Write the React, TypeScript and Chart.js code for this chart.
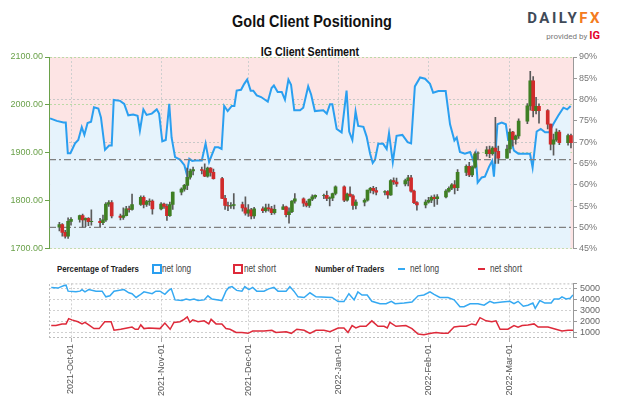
import React, { useEffect, useRef } from "react";
import { Chart, registerables } from "chart.js";
Chart.register(...registerables);

const FONT = '"Liberation Sans", Arial, sans-serif';
const BASE_DATE = "2021-09-23";
const X_MIN = 0.43;
const X_MAX = 180.7;

const monthDates = ["2021-10-01", "2021-11-01", "2021-12-01", "2022-01-01", "2022-02-01", "2022-03-01"];
const monthLabels = ["2021-Oct-01", "2021-Nov-01", "2021-Dec-01", "2022-Jan-01", "2022-Feb-01", "2022-Mar-01"];

const candleDates = [
  "2021-09-27", "2021-09-28", "2021-09-29", "2021-09-30",
  "2021-10-01", "2021-10-04", "2021-10-05", "2021-10-06", "2021-10-07", "2021-10-08", "2021-10-11", "2021-10-12", "2021-10-13", "2021-10-14", "2021-10-15", "2021-10-18", "2021-10-19", "2021-10-20", "2021-10-21", "2021-10-22", "2021-10-25", "2021-10-26", "2021-10-27", "2021-10-28", "2021-10-29",
  "2021-11-01", "2021-11-02", "2021-11-03", "2021-11-04", "2021-11-05", "2021-11-08", "2021-11-09", "2021-11-10", "2021-11-11", "2021-11-12", "2021-11-15", "2021-11-16", "2021-11-17", "2021-11-18", "2021-11-19", "2021-11-22", "2021-11-23", "2021-11-24", "2021-11-25", "2021-11-26", "2021-11-29", "2021-11-30",
  "2021-12-01", "2021-12-02", "2021-12-03", "2021-12-06", "2021-12-07", "2021-12-08", "2021-12-09", "2021-12-10", "2021-12-13", "2021-12-14", "2021-12-15", "2021-12-16", "2021-12-17", "2021-12-20", "2021-12-21", "2021-12-22", "2021-12-23", "2021-12-24", "2021-12-27", "2021-12-28", "2021-12-29", "2021-12-30", "2021-12-31",
  "2022-01-03", "2022-01-04", "2022-01-05", "2022-01-06", "2022-01-07", "2022-01-10", "2022-01-11", "2022-01-12", "2022-01-13", "2022-01-14", "2022-01-17", "2022-01-18", "2022-01-19", "2022-01-20", "2022-01-21", "2022-01-24", "2022-01-25", "2022-01-26", "2022-01-27", "2022-01-28", "2022-01-31",
  "2022-02-01", "2022-02-02", "2022-02-03", "2022-02-04", "2022-02-07", "2022-02-08", "2022-02-09", "2022-02-10", "2022-02-11", "2022-02-14", "2022-02-15", "2022-02-16", "2022-02-17", "2022-02-18", "2022-02-21", "2022-02-22", "2022-02-23", "2022-02-24", "2022-02-25", "2022-02-28",
  "2022-03-01", "2022-03-02", "2022-03-03", "2022-03-04", "2022-03-07", "2022-03-08", "2022-03-09", "2022-03-10", "2022-03-11", "2022-03-14", "2022-03-15", "2022-03-16", "2022-03-17", "2022-03-18", "2022-03-21", "2022-03-22",
];

const opens = [
  1745, 1750, 1734, 1726,
  1757, 1761, 1769, 1760, 1763, 1756, 1757, 1754, 1760, 1793, 1796, 1768, 1765, 1769, 1783, 1782, 1792, 1807, 1792, 1798, 1799,
  1783, 1793, 1788, 1769, 1792, 1818, 1824, 1832, 1849, 1862, 1865, 1863, 1851, 1868, 1859, 1846, 1805, 1790, 1789, 1790, 1792, 1785,
  1774, 1781, 1768, 1783, 1779, 1785, 1783, 1775, 1782, 1787, 1771, 1777, 1799, 1804, 1795, 1790, 1803, 1808, 1811, 1811, 1805, 1806, 1815,
  1829, 1801, 1814, 1810, 1790, 1797, 1801, 1822, 1826, 1821, 1818, 1819, 1812, 1842, 1839, 1835, 1842, 1848, 1820, 1796, 1791,
  1797, 1801, 1807, 1804, 1808, 1820, 1826, 1833, 1827, 1859, 1872, 1854, 1870, 1898, 1898, 1906, 1898, 1910, 1903, 1889,
  1908, 1943, 1928, 1935, 1966, 1998, 2050, 1988, 1997, 1988, 1960, 1918, 1927, 1943, 1921, 1936,
];
const highs = [
  1755, 1752, 1738, 1764,
  1765, 1770, 1772, 1764, 1765, 1781, 1763, 1770, 1796, 1800, 1800, 1772, 1785, 1788, 1789, 1814, 1810, 1810, 1801, 1804, 1802,
  1796, 1795, 1793, 1797, 1818, 1827, 1834, 1868, 1866, 1870, 1870, 1877, 1870, 1869, 1866, 1849, 1811, 1797, 1796, 1815, 1797, 1808,
  1792, 1784, 1786, 1787, 1793, 1793, 1788, 1791, 1792, 1789, 1785, 1800, 1815, 1806, 1799, 1804, 1812, 1812, 1814, 1820, 1808, 1816, 1831,
  1831, 1816, 1829, 1813, 1802, 1804, 1822, 1828, 1830, 1828, 1821, 1821, 1844, 1848, 1847, 1845, 1853, 1853, 1822, 1798, 1802,
  1807, 1810, 1812, 1813, 1823, 1829, 1836, 1842, 1865, 1875, 1880, 1873, 1902, 1902, 1913, 1914, 1913, 1974, 1914, 1916,
  1950, 1945, 1937, 1971, 2003, 2070, 2059, 2016, 2002, 1990, 1960, 1939, 1950, 1947, 1939, 1939,
];
const lows = [
  1737, 1726, 1722, 1721,
  1749, 1755, 1745, 1746, 1748, 1749, 1746, 1750, 1757, 1788, 1764, 1760, 1761, 1768, 1776, 1780, 1790, 1785, 1788, 1790, 1772,
  1781, 1784, 1759, 1767, 1782, 1812, 1820, 1823, 1845, 1854, 1856, 1850, 1849, 1851, 1845, 1804, 1782, 1779, 1784, 1783, 1778, 1770,
  1767, 1762, 1763, 1775, 1776, 1778, 1771, 1772, 1782, 1766, 1753, 1775, 1795, 1788, 1787, 1786, 1800, 1805, 1804, 1800, 1789, 1800, 1812,
  1798, 1799, 1808, 1782, 1783, 1789, 1799, 1816, 1814, 1812, 1812, 1805, 1811, 1834, 1830, 1831, 1831, 1818, 1794, 1780, 1785,
  1795, 1796, 1788, 1792, 1806, 1818, 1823, 1814, 1821, 1852, 1850, 1850, 1868, 1885, 1893, 1890, 1895, 1878, 1878, 1889,
  1900, 1914, 1918, 1930, 1961, 1989, 1975, 1981, 1962, 1950, 1906, 1895, 1924, 1917, 1916, 1910,
];
const closes = [
  1750, 1734, 1726, 1757,
  1761, 1769, 1760, 1763, 1756, 1757, 1754, 1760, 1793, 1796, 1768, 1765, 1769, 1783, 1782, 1792, 1807, 1792, 1798, 1799, 1783,
  1793, 1788, 1769, 1792, 1818, 1824, 1832, 1849, 1862, 1865, 1863, 1851, 1868, 1859, 1846, 1805, 1790, 1789, 1790, 1792, 1785, 1774,
  1781, 1768, 1783, 1779, 1785, 1783, 1775, 1782, 1787, 1771, 1777, 1799, 1804, 1795, 1790, 1803, 1808, 1811, 1811, 1805, 1806, 1815, 1829,
  1801, 1814, 1810, 1790, 1797, 1801, 1822, 1826, 1821, 1818, 1819, 1812, 1842, 1839, 1835, 1842, 1848, 1820, 1796, 1791, 1797,
  1801, 1807, 1804, 1808, 1820, 1826, 1833, 1827, 1859, 1872, 1854, 1870, 1898, 1898, 1906, 1898, 1910, 1903, 1889, 1908,
  1943, 1928, 1935, 1966, 1998, 2050, 1988, 1997, 1988, 1960, 1918, 1927, 1943, 1921, 1936, 1921,
];

// net-long percentage (day offsets from BASE_DATE)
const sentDays = [
  0.8, 3.1, 5.4, 6.2, 6.9, 7.8, 9.4, 10.5, 11.7, 12.6,
  13.7, 14.9, 15.9, 17.4, 18.3, 19.7, 21.1, 22.0, 22.7, 24.9,
  26.3, 27.7, 29.4, 30.9, 31.7, 32.9, 34.0, 35.8, 37.5, 38.3,
  39.4, 40.6, 41.8, 42.6, 43.8, 45.5, 47.0, 47.8, 48.7, 49.7,
  50.7, 53.0, 54.3, 55.5, 56.4, 57.5, 58.7, 59.8, 60.7, 61.9,
  63.3, 64.2, 65.0, 66.5, 67.6, 68.6, 69.8, 70.7, 71.9, 73.4,
  75.7, 77.0, 77.8, 79.1, 80.5, 81.6, 82.8, 83.7, 84.8, 86.8,
  87.9, 89.6, 90.6, 91.9, 94.8, 96.0, 97.1, 97.9, 99.4, 101.1,
  102.8, 103.7, 104.8, 105.9, 106.8, 108.6, 109.7, 110.9, 111.8, 112.6,
  113.7, 115.4, 116.6, 117.4, 118.7, 120.0, 122.0, 123.8, 125.0, 126.3,
  128.1, 129.8, 131.5, 132.6, 134.4, 136.9, 138.4, 139.9, 140.7, 141.8,
  143.5, 145.3, 146.4, 147.2, 147.9, 149.3, 150.4, 151.8, 152.9, 153.5,
  154.7, 156.2, 157.6, 158.4, 159.3, 160.4, 161.9, 165.0, 165.9, 166.8,
  168.2, 169.6, 171.1, 172.5, 173.9, 175.6, 177.4, 178.7, 179.9,
];
const sentPct = [
  75.6, 75.0, 74.6, 74.6, 67.4, 67.4, 69.7, 70.5, 73.5, 71.7,
  74.5, 74.8, 78.2, 77.9, 75.8, 68.2, 69.2, 69.2, 79.9, 79.7,
  79.0, 76.3, 76.5, 76.2, 72.7, 77.7, 76.4, 76.7, 77.7, 76.7,
  70.2, 70.5, 79.0, 71.1, 66.5, 65.9, 64.6, 62.5, 66.1, 65.6,
  65.7, 65.7, 69.7, 65.3, 66.9, 68.8, 68.8, 68.4, 78.5, 77.3,
  78.5, 78.5, 82.1, 82.3, 83.7, 84.7, 82.1, 82.1, 81.0, 80.6,
  79.5, 82.7, 83.3, 81.8, 81.8, 80.0, 84.7, 83.5, 77.5, 77.5,
  78.1, 83.1, 81.2, 77.3, 77.5, 76.7, 78.9, 78.9, 73.1, 72.3,
  82.1, 72.5, 70.5, 77.2, 73.8, 73.6, 71.3, 67.3, 65.1, 65.9,
  69.6, 69.6, 68.4, 72.1, 65.3, 71.5, 71.7, 70.0, 69.7, 83.1,
  85.2, 84.9, 83.7, 81.6, 82.0, 82.0, 74.2, 70.4, 71.1, 67.7,
  67.3, 67.7, 65.7, 67.4, 60.5, 61.7, 61.9, 64.2, 65.6, 61.9,
  74.2, 74.6, 74.2, 70.5, 70.5, 68.0, 67.3, 67.3, 67.3, 64.0,
  72.5, 73.1, 72.3, 72.3, 74.2, 76.2, 78.1, 77.7, 78.5,
];
const refLevels = [50, 65.9];

// number of traders
const longDays = [
  1.2, 3.5, 5.6, 6.3, 7.0, 9.7, 11.1, 11.8, 12.8, 14.1,
  16.6, 18.7, 20.0, 21.4, 22.8, 24.2, 26.2, 27.9, 29.0, 30.4,
  31.7, 33.1, 35.9, 37.2, 38.6, 40.3, 41.6, 42.5, 43.8, 46.2,
  47.6, 48.9, 50.3, 51.7, 53.8, 55.1, 56.5, 58.6, 59.9, 61.3,
  62.3, 63.4, 65.0, 66.8, 67.8, 69.2, 70.5, 71.9, 74.4, 76.0,
  77.8, 79.2, 82.0, 83.3, 84.7, 86.1, 88.2, 90.2, 92.3, 97.8,
  99.9, 101.9, 103.6, 105.4, 106.7, 108.1, 109.9, 111.5, 114.3, 116.4,
  118.2, 119.5, 122.6, 125.3, 127.4, 129.4, 131.5, 132.9, 134.9, 137.7,
  139.8, 141.8, 143.2, 145.3, 148.0, 150.1, 152.1, 153.5, 156.3, 159.0,
  160.4, 161.8, 163.6, 165.2, 166.9, 167.7, 169.3, 171.0, 173.2, 174.2,
  175.9, 176.9, 178.3, 179.7, 180.7,
];
const longCount = [
  5130, 5070, 5300, 5340, 4790, 4730, 4790, 4930, 4730, 4930,
  4790, 4790, 4270, 4360, 4790, 4860, 4930, 4640, 4560, 4210,
  4440, 4730, 4560, 4790, 4790, 4500, 4860, 5000, 3990, 3930,
  4070, 3990, 4070, 3930, 3990, 4360, 4070, 3990, 3930, 4790,
  5130, 5210, 4860, 4790, 5210, 4930, 5130, 4790, 4790, 5000,
  5130, 4790, 4790, 5210, 4790, 4270, 4210, 4640, 4270, 4210,
  3840, 3840, 4560, 3990, 4730, 4440, 4440, 3860, 3640, 3640,
  3860, 3640, 3700, 3790, 4360, 4440, 4730, 4500, 4210, 4210,
  3990, 3360, 3360, 3640, 3640, 3500, 3860, 3700, 3790, 3860,
  3640, 3860, 3410, 3500, 3700, 3210, 3930, 3700, 3700, 4070,
  4070, 4270, 4070, 4140, 4440,
];
const shortDays = [
  1.2, 2.8, 4.9, 6.3, 7.2, 8.3, 10.4, 11.8, 12.8, 14.1,
  15.9, 17.7, 19.6, 21.8, 22.8, 25.1, 27.3, 29.0, 30.1, 31.1,
  32.0, 33.1, 34.8, 38.6, 40.3, 42.1, 43.4, 45.5, 46.9, 48.0,
  48.9, 49.9, 51.7, 53.8, 55.4, 56.2, 57.9, 59.9, 61.3, 62.7,
  64.8, 66.8, 68.9, 70.5, 74.4, 77.1, 78.5, 82.0, 83.8, 85.7,
  88.2, 90.2, 92.3, 95.0, 97.1, 99.9, 101.9, 103.3, 104.7, 106.0,
  107.4, 109.5, 111.5, 113.6, 115.7, 116.8, 117.7, 119.8, 123.2, 125.3,
  127.4, 129.4, 131.9, 133.6, 135.6, 137.7, 139.8, 141.8, 143.9, 145.9,
  147.3, 148.7, 150.8, 152.8, 154.2, 155.6, 158.3, 160.4, 161.8, 163.2,
  165.2, 167.3, 168.7, 172.1, 174.8, 176.9, 179.0, 180.7,
];
const shortCount = [
  1640, 1640, 1790, 1790, 2270, 2160, 1990, 1790, 1930, 1700,
  1360, 1360, 1990, 1990, 1210, 1300, 1420, 1500, 1300, 1300,
  1700, 1360, 1420, 1360, 1870, 1300, 1930, 1990, 2210, 2440,
  1930, 2160, 1990, 2070, 1790, 2210, 1790, 1790, 1360, 1300,
  1010, 1010, 930, 1140, 1140, 1210, 1010, 1070, 930, 1300,
  1210, 930, 1210, 1210, 1070, 1420, 1420, 1010, 1640, 1420,
  1570, 1570, 2070, 1570, 1570, 1420, 1930, 1570, 1640, 1360,
  860, 790, 930, 1010, 930, 930, 1500, 1570, 1570, 1790,
  1700, 2360, 2070, 1990, 2070, 1300, 1300, 1640, 1500, 1640,
  1700, 1790, 1500, 1500, 1300, 1140, 1210, 1210,
];
const countTicks = [500, 1000, 2000, 3000, 4000, 5000, 5500];

const GREEN_TXT = "#6aa14a";
const BLUE = "#2a9ff0";
const RED = "#de2a3a";
const UP = "#3f7f24";
const DOWN = "#d02b2b";
const PINK = "#fde4e4";
const LIGHTBLUE = "#e6f3fc";

const DAY_MS = 86400000;
function dayOf(s: string): number {
  const [y, m, d] = s.split("-").map(Number);
  const [by, bm, bd] = BASE_DATE.split("-").map(Number);
  return (Date.UTC(y, m - 1, d) - Date.UTC(by, bm - 1, bd)) / DAY_MS;
}
function setMonthTicks(axis: any) {
  axis.ticks = monthDates.map((d) => ({ value: dayOf(d) }));
}

const plotBg = {
  id: "plotBg",
  beforeDraw(chart: any) {
    const { ctx, chartArea: a } = chart;
    ctx.save();
    ctx.fillStyle = PINK;
    ctx.fillRect(a.left, a.top, a.right - a.left, a.bottom - a.top);
    ctx.restore();
  },
};
const dottedFrame = {
  id: "dottedFrame",
  afterDraw(chart: any) {
    const { ctx, chartArea: a } = chart;
    ctx.save();
    ctx.strokeStyle = "#bdbdbd";
    ctx.lineWidth = 1;
    ctx.setLineDash([2, 2]);
    ctx.beginPath();
    ctx.moveTo(a.left + 0.5, a.bottom);
    ctx.lineTo(a.left + 0.5, a.top + 0.5);
    ctx.lineTo(a.right, a.top + 0.5);
    ctx.moveTo(a.left, a.bottom - 0.5);
    ctx.lineTo(a.right, a.bottom - 0.5);
    ctx.stroke();
    ctx.restore();
  },
};

function Cond(props: { left: number; top: number; size: number; bold?: boolean; color?: string; sx?: number; children: React.ReactNode }) {
  return (
    <div
      style={{
        position: "absolute",
        left: props.left,
        top: props.top,
        fontFamily: FONT,
        fontSize: props.size,
        fontWeight: props.bold ? "bold" : "normal",
        color: props.color || "#444",
        whiteSpace: "nowrap",
        lineHeight: "12px",
        transform: `scaleX(${props.sx ?? 0.82})`,
        transformOrigin: "left center",
      }}
    >
      {props.children}
    </div>
  );
}

export default function App() {
  const mainRef = useRef<HTMLCanvasElement>(null);
  const lowRef = useRef<HTMLCanvasElement>(null);

  useEffect(() => {
    Chart.defaults.font.family = FONT;
    Chart.defaults.font.size = 9;
    const candleX = candleDates.map(dayOf);
    const main = new Chart(mainRef.current as HTMLCanvasElement, {
      type: "line",
      data: {
        datasets: [
          {
            type: "bar",
            label: "body",
            data: candleX.map((x, i) => ({ x, y: [opens[i], closes[i]] })) as any,
            backgroundColor: candleX.map((_, i) => (closes[i] >= opens[i] ? UP : DOWN)),
            barThickness: 3,
            grouped: false,
            yAxisID: "yPrice",
            xAxisID: "x",
            order: 1,
          } as any,
          {
            type: "bar",
            label: "wick",
            data: candleX.map((x, i) => ({ x, y: [lows[i], highs[i]] })) as any,
            backgroundColor: "#5a5a5a",
            barThickness: 1,
            grouped: false,
            yAxisID: "yPrice",
            xAxisID: "x",
            order: 2,
          } as any,
          ...refLevels.map((lv) => ({
            type: "line",
            label: "ref" + lv,
            data: [{ x: X_MIN, y: lv }, { x: X_MAX, y: lv }],
            borderColor: "#808080",
            borderWidth: 1.3,
            borderDash: [7, 3, 2, 3],
            pointRadius: 0,
            fill: false,
            yAxisID: "yPct",
            xAxisID: "x",
            order: 4,
          })) as any,
          {
            type: "line",
            label: "net long %",
            data: sentDays.map((x, i) => ({ x, y: sentPct[i] })),
            borderColor: BLUE,
            borderWidth: 2,
            backgroundColor: LIGHTBLUE,
            fill: "start",
            pointRadius: 0,
            tension: 0,
            yAxisID: "yPct",
            xAxisID: "x",
            order: 5,
          } as any,
        ],
      },
      options: {
        animation: false,
        responsive: false,
        events: [],
        layout: { padding: { top: 57, left: 0, right: 0, bottom: 0 } },
        plugins: { legend: { display: false }, tooltip: { enabled: false } },
        scales: {
          x: {
            type: "linear",
            min: X_MIN,
            max: X_MAX,
            offset: false,
            z: 1,
            afterBuildTicks: setMonthTicks,
            afterFit: (s: any) => { s.height = 5; },
            ticks: { display: false },
            grid: { color: "#cfcfcf", drawTicks: false, offset: false },
            border: { display: false, dash: [2, 2] },
          },
          yPrice: {
            type: "linear",
            position: "left",
            min: 1700,
            max: 2100,
            z: 1,
            afterFit: (s: any) => { s.width = 49; },
            ticks: {
              stepSize: 100,
              color: GREEN_TXT,
              padding: 2,
              font: { size: 9, family: FONT },
              callback: (v: any) => Number(v).toFixed(2),
            },
            grid: { color: "#bcd9a6", tickColor: GREEN_TXT, tickLength: 4 },
            border: { color: GREEN_TXT, width: 1, dash: [2, 2] },
          },
          yPct: {
            type: "linear",
            position: "right",
            min: 45,
            max: 90,
            z: 1,
            afterFit: (s: any) => { s.width = 51; },
            ticks: {
              stepSize: 5,
              autoSkip: false,
              color: "#777",
              padding: 2,
              font: { size: 9, family: FONT },
              callback: (v: any) => v + "%",
            },
            grid: {
              color: (c: any) => (c.tick && [60, 70, 80].includes(c.tick.value) ? "#c8c8c8" : "rgba(0,0,0,0)"),
              tickColor: "#999",
              tickLength: 4,
            },
            border: { color: "#999", width: 1, dash: [2, 2] },
          },
        },
      } as any,
      plugins: [plotBg],
    });

    const low = new Chart(lowRef.current as HTMLCanvasElement, {
      type: "line",
      data: {
        datasets: [
          {
            label: "net long",
            data: longDays.map((x, i) => ({ x, y: longCount[i] })),
            borderColor: "#35a9f2",
            borderWidth: 1.5,
            pointRadius: 0,
            fill: false,
            tension: 0,
          },
          {
            label: "net short",
            data: shortDays.map((x, i) => ({ x, y: shortCount[i] })),
            borderColor: RED,
            borderWidth: 1.5,
            pointRadius: 0,
            fill: false,
            tension: 0,
          },
        ],
      },
      options: {
        animation: false,
        responsive: false,
        events: [],
        layout: { padding: { top: 5, left: 49, right: 0, bottom: 0 } },
        plugins: { legend: { display: false }, tooltip: { enabled: false } },
        scales: {
          x: {
            type: "linear",
            min: X_MIN,
            max: X_MAX,
            afterBuildTicks: setMonthTicks,
            afterFit: (s: any) => { s.height = 62; },
            ticks: {
              autoSkip: false,
              minRotation: 90,
              maxRotation: 90,
              color: "#555",
              padding: 2,
              font: { size: 9, family: FONT },
              callback: (_v: any, i: number) => monthLabels[i],
            },
            grid: { color: "#d0d0d0", tickColor: "#aaa", tickLength: 4 },
            border: { display: false, dash: [2, 2] },
          },
          y: {
            type: "linear",
            position: "right",
            min: 500,
            max: 5500,
            afterBuildTicks: (a: any) => { a.ticks = countTicks.map((v) => ({ value: v })); },
            afterFit: (s: any) => { s.width = 51; },
            ticks: {
              autoSkip: false,
              color: "#666",
              padding: 3,
              font: { size: 9, family: FONT },
              callback: (v: any) => (v === 500 || v === 5500 ? "" : String(v)),
            },
            grid: {
              color: (c: any) => (c.tick && (c.tick.value === 500 || c.tick.value === 5500) ? "rgba(0,0,0,0)" : "#d0d0d0"),
              tickColor: "#999",
              tickLength: 4,
            },
            border: { color: "#999", width: 1, dash: [2, 2] },
          },
        },
      } as any,
      plugins: [dottedFrame],
    });

    return () => {
      main.destroy();
      low.destroy();
    };
  }, []);

  const legTop = 263;

  return (
    <div style={{ position: "fixed", left: 0, top: 0, width: 624, height: 416, background: "#fff", overflow: "hidden" }}>
      <div style={{ position: "absolute", left: 0, width: 624, top: 12, textAlign: "center" }}>
        <span style={{ display: "inline-block", fontFamily: FONT, fontWeight: "bold", fontSize: 17, lineHeight: "20px", color: "#111", transform: "scaleX(0.85)", whiteSpace: "nowrap" }}>
          Gold Client Positioning
        </span>
      </div>
      <div style={{ position: "absolute", left: 0, width: 620, top: 42, textAlign: "center" }}>
        <span style={{ display: "inline-block", fontFamily: FONT, fontWeight: "bold", fontSize: 13, lineHeight: "15px", color: "#111", transform: "scaleX(0.82)", whiteSpace: "nowrap" }}>
          IG Client Sentiment
        </span>
      </div>
      <div style={{ position: "absolute", right: 22, top: 9, fontFamily: "Roboto, sans-serif", fontWeight: "bold", fontSize: 15, letterSpacing: 2.5, lineHeight: "18px", whiteSpace: "nowrap" }}>
        <span style={{ color: "#3f4a58" }}>DAILY</span>
        <span style={{ color: "#f47b20" }}>FX</span>
      </div>
      <div style={{ position: "absolute", right: 24, top: 30, fontFamily: "Roboto, sans-serif", fontSize: 8, color: "#777", lineHeight: "12px", whiteSpace: "nowrap" }}>
        provided by <span style={{ color: "#e4002b", fontWeight: "bold", fontSize: 11 }}>IG</span>
      </div>

      <canvas ref={mainRef} width={624} height={256} style={{ position: "absolute", left: 0, top: 0, width: 624, height: 256 }} />

      <Cond left={57} top={legTop} size={9.5} bold color="#222">Percentage of Traders</Cond>
      <div style={{ position: "absolute", left: 152, top: legTop + 1, width: 6, height: 6, border: "2px solid " + BLUE, background: "#fff" }} />
      <Cond left={162} top={legTop} size={10}>net long</Cond>
      <div style={{ position: "absolute", left: 233, top: legTop + 1, width: 6, height: 6, border: "2px solid " + RED, background: "#fff" }} />
      <Cond left={244} top={legTop} size={10}>net short</Cond>
      <Cond left={315} top={legTop} size={9.5} bold color="#222">Number of Traders</Cond>
      <div style={{ position: "absolute", left: 398, top: legTop + 5, width: 7, height: 2, background: "#35a9f2" }} />
      <Cond left={410} top={legTop} size={10}>net long</Cond>
      <div style={{ position: "absolute", left: 478, top: legTop + 5, width: 7, height: 2, background: RED }} />
      <Cond left={490} top={legTop} size={10}>net short</Cond>

      <canvas ref={lowRef} width={624} height={125} style={{ position: "absolute", left: 0, top: 275, width: 624, height: 125 }} />
    </div>
  );
}
